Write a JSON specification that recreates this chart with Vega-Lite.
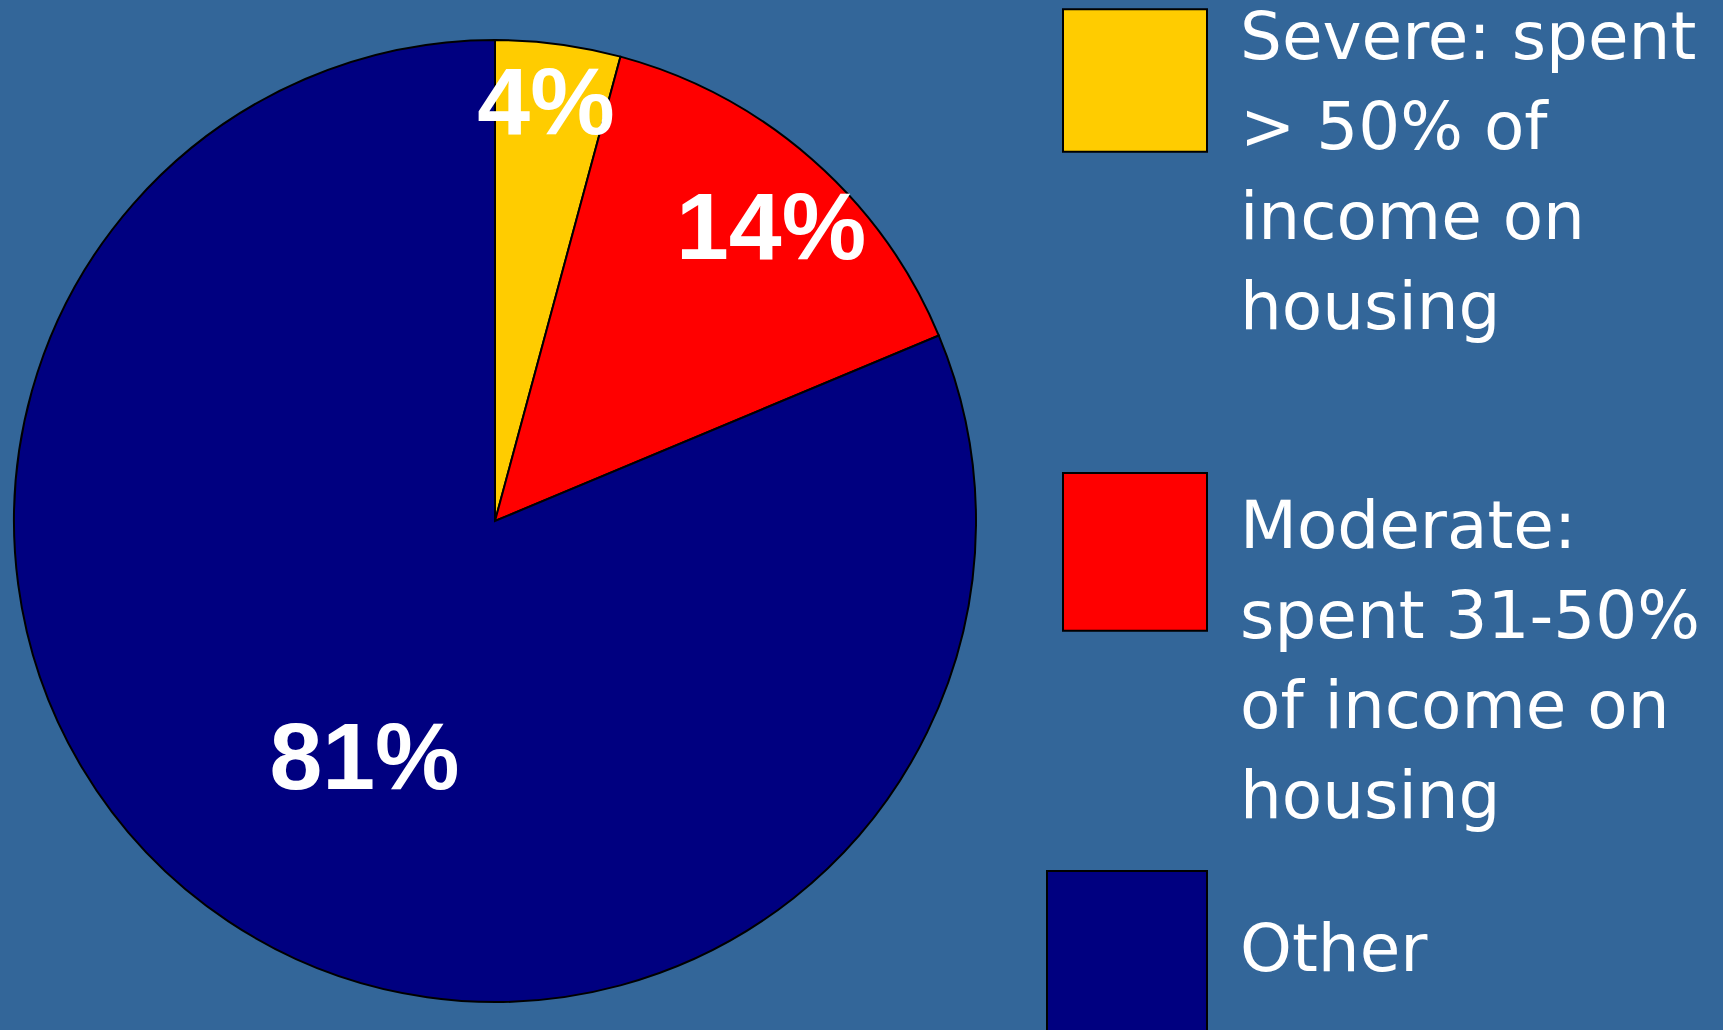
{
  "$schema": "https://vega.github.io/schema/vega-lite/v6.json",
  "autosize": {"type": "none"},
  "padding": {"left": 0, "top": 12, "right": 733, "bottom": 0},
  "width": 990,
  "height": 1018,
  "background": "#336699",
  "config": {
    "view": {"stroke": null},
    "style": {"guide-label": {"lineHeight": 90}},
    "legend": {
      "orient": "none",
      "title": null,
      "padding": 0,
      "symbolStrokeColor": "#000000",
      "symbolStrokeWidth": 2,
      "symbolOpacity": 1,
      "labelFont": "DejaVu Sans",
      "labelFontSize": 66,
      "labelColor": "#ffffff",
      "labelOffset": 32,
      "labelLimit": 1000
    }
  },
  "data": {
    "values": [
      {"cat": "Severe: spent > 50% of income on housing", "value": 4.2, "label": "4%", "order": 1},
      {"cat": "Moderate: spent 31-50% of income on housing", "value": 14.5, "label": "14%", "order": 2},
      {"cat": "Other", "value": 81.3, "label": "81%", "order": 3}
    ]
  },
  "layer": [
    {
      "transform": [
        {"stack": "value", "groupby": [], "sort": [{"field": "order"}], "as": ["v0", "v1"]},
        {"filter": "datum.order == 1"}
      ],
      "mark": {"type": "arc", "outerRadius": 481, "stroke": "#000000", "strokeWidth": 2},
      "encoding": {
        "theta": {"field": "v0", "type": "quantitative"},
        "theta2": {"field": "v1"},
        "color": {
          "field": "cat", "type": "nominal",
          "scale": {"range": ["#FFCC00"]},
          "legend": {
            "legendX": 1062, "legendY": -78,
            "symbolType": "M-1,0.03H1V2.01H-1Z",
            "symbolSize": 20736,
            "labelBaseline": "top",
            "labelExpr": "['Severe: spent', '> 50% of', 'income on', 'housing']"
          }
        }
      }
    },
    {
      "transform": [
        {"stack": "value", "groupby": [], "sort": [{"field": "order"}], "as": ["v0", "v1"]},
        {"filter": "datum.order == 2"}
      ],
      "mark": {"type": "arc", "outerRadius": 481, "stroke": "#000000", "strokeWidth": 2},
      "encoding": {
        "theta": {"field": "v0", "type": "quantitative"},
        "theta2": {"field": "v1"},
        "color": {
          "field": "cat", "type": "nominal",
          "scale": {"range": ["#FF0000"]},
          "legend": {
            "legendX": 1062, "legendY": 411,
            "symbolType": "M-1,-0.32H1V1.87H-1Z",
            "symbolSize": 20736,
            "labelBaseline": "top",
            "labelExpr": "['Moderate:', 'spent 31-50%', 'of income on', 'housing']"
          }
        }
      }
    },
    {
      "transform": [
        {"stack": "value", "groupby": [], "sort": [{"field": "order"}], "as": ["v0", "v1"]},
        {"filter": "datum.order == 3"}
      ],
      "mark": {"type": "arc", "outerRadius": 481, "stroke": "#000000", "strokeWidth": 2},
      "encoding": {
        "theta": {"field": "v0", "type": "quantitative"},
        "theta2": {"field": "v1"},
        "color": {
          "field": "cat", "type": "nominal",
          "scale": {"range": ["#000080"]},
          "legend": {
            "legendX": 1046, "legendY": 858,
            "symbolType": "square",
            "symbolSize": 25600,
            "labelBaseline": "middle"
          }
        }
      }
    },
    {
      "mark": {"type": "text", "radius": 419, "thetaOffset": -0.01, "font": "Liberation Sans", "fontWeight": "bold", "fontSize": 95, "fill": "#ffffff", "align": "center", "baseline": "middle"},
      "encoding": {
        "theta": {"field": "value", "type": "quantitative", "stack": true},
        "order": {"field": "order"},
        "text": {"condition": {"test": "datum.order == 1", "field": "label"}, "value": ""}
      }
    },
    {
      "mark": {"type": "text", "radius": 401, "thetaOffset": 0.04, "font": "Liberation Sans", "fontWeight": "bold", "fontSize": 95, "fill": "#ffffff", "align": "center", "baseline": "middle"},
      "encoding": {
        "theta": {"field": "value", "type": "quantitative", "stack": true},
        "order": {"field": "order"},
        "text": {"condition": {"test": "datum.order == 2", "field": "label"}, "value": ""}
      }
    },
    {
      "mark": {"type": "text", "radius": 272, "thetaOffset": -0.087, "font": "Liberation Sans", "fontWeight": "bold", "fontSize": 95, "fill": "#ffffff", "align": "center", "baseline": "middle"},
      "encoding": {
        "theta": {"field": "value", "type": "quantitative", "stack": true},
        "order": {"field": "order"},
        "text": {"condition": {"test": "datum.order == 3", "field": "label"}, "value": ""}
      }
    }
  ],
  "resolve": {"scale": {"color": "independent"}, "legend": {"color": "independent"}}
}
